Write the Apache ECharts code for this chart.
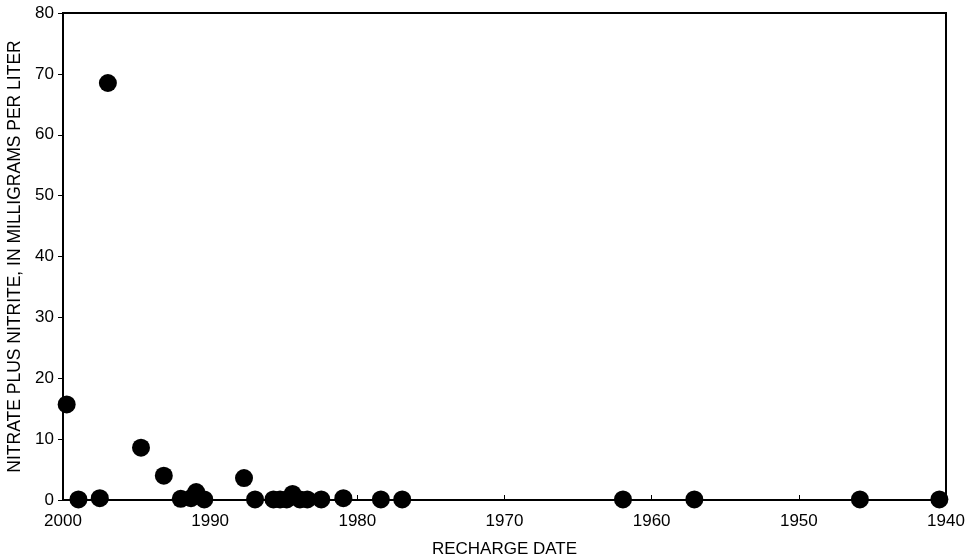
<!DOCTYPE html>
<html>
<head>
<meta charset="utf-8">
<script src="https://cdn.jsdelivr.net/npm/echarts@6/dist/echarts.min.js"></script>
<style>html,body{margin:0;padding:0;background:#fff}#c{width:976px;height:560px}</style>
</head>
<body>
<div id="c"></div>
<script>
var rechargeYears = [1999.75, 1998.95, 1997.5, 1996.95, 1994.7, 1993.15, 1992.0, 1991.3, 1990.95, 1990.4,
  1987.7, 1986.95, 1985.7, 1985.25, 1984.8, 1984.4, 1983.9, 1983.4, 1982.45, 1980.95,
  1978.4, 1976.95, 1961.95, 1957.1, 1945.85, 1940.45];
var nitrateValues = [15.7, 0.1, 0.3, 68.5, 8.6, 4.0, 0.2, 0.3, 1.3, 0.1,
  3.6, 0.1, 0.1, 0.1, 0.1, 1.0, 0.1, 0.1, 0.1, 0.3,
  0.1, 0.1, 0.1, 0.1, 0.1, 0.1];
var xTicks = [2000, 1990, 1980, 1970, 1960, 1950, 1940];
var yTicks = [0, 10, 20, 30, 40, 50, 60, 70, 80];

var pts = rechargeYears.map(function (y, i) { return [y, nitrateValues[i]]; });
var font = 'Liberation Sans, Arial, Helvetica, sans-serif';
var chart = echarts.init(document.getElementById('c'), null, {renderer: 'canvas'});
chart.setOption({
  animation: false,
  backgroundColor: '#fff',
  grid: {left: 63, right: 30, top: 13, bottom: 60, containLabel: false, outerBoundsMode: 'none',
    show: true, borderColor: '#000', borderWidth: 2, backgroundColor: 'transparent'},
  xAxis: {
    type: 'value', inverse: true, min: 1940, max: 2000, interval: 10,
    name: 'RECHARGE DATE', nameLocation: 'middle', nameGap: 41,
    nameTextStyle: {color: '#000', fontSize: 17, fontFamily: font},
    axisLine: {show: true, onZero: false, lineStyle: {color: '#000', width: 2}},
    axisTick: {show: true, inside: true, length: 5, lineStyle: {color: '#000', width: 1}},
    axisLabel: {color: '#000', fontSize: 17, fontFamily: font, margin: 13,
      formatter: function (v) { return xTicks.indexOf(v) >= 0 ? String(v) : ''; }},
    splitLine: {show: false}
  },
  yAxis: {
    type: 'value', min: 0, max: 80, interval: 10,
    name: 'NITRATE PLUS NITRITE, IN MILLIGRAMS PER LITER', nameLocation: 'middle', nameGap: 32,
    nameTextStyle: {color: '#000', fontSize: 17.5, fontFamily: font},
    axisLine: {show: true, lineStyle: {color: '#000', width: 2}},
    axisTick: {show: true, inside: false, length: 5, lineStyle: {color: '#000', width: 1}},
    axisLabel: {color: '#000', fontSize: 17, fontFamily: font, margin: 9,
      formatter: function (v) { return yTicks.indexOf(v) >= 0 ? String(v) : ''; }},
    splitLine: {show: false}
  },
  series: [{
    type: 'scatter', data: pts, symbol: 'circle', symbolSize: 18,
    itemStyle: {color: '#000', opacity: 1}, clip: false
  }]
});
</script>
</body>
</html>
